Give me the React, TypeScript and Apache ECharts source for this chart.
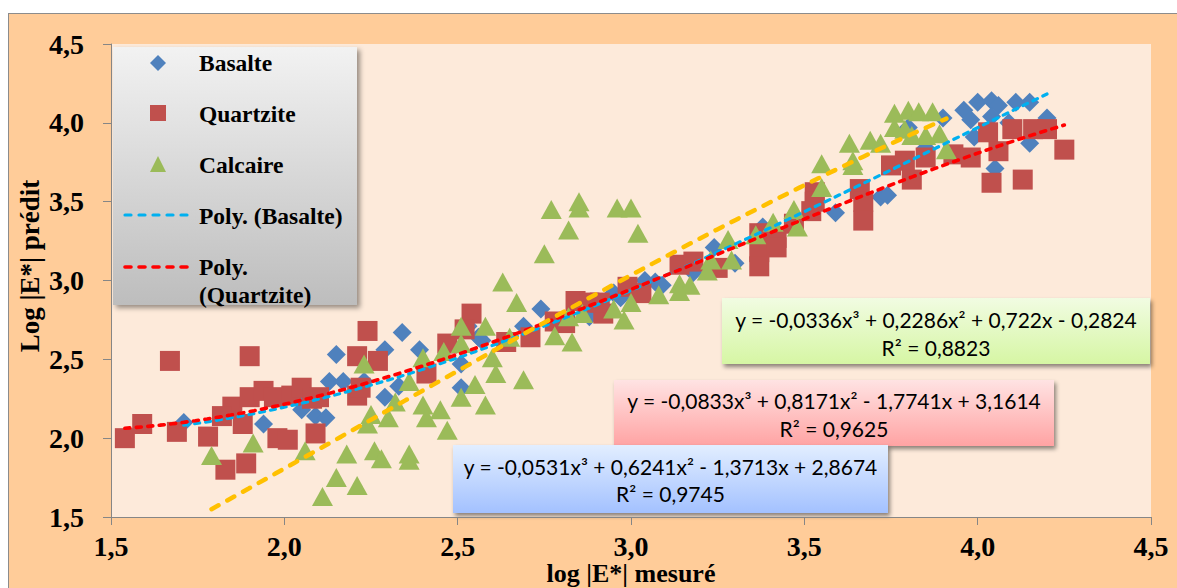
import React, { useEffect, useRef } from "react";
import * as echarts from "echarts";

// ---- data ----
const basalte: [number, number][] = [
  [1.71, 2.10], [1.94, 2.09], [2.05, 2.18], [2.09, 2.14], [2.12, 2.13], [2.06, 2.26],
  [2.15, 2.53], [2.13, 2.36], [2.17, 2.36], [2.23, 2.36], [2.29, 2.56], [2.29, 2.26],
  [2.34, 2.67], [2.39, 2.56], [2.33, 2.33], [2.51, 2.47], [2.51, 2.32], [2.56, 2.64],
  [2.53, 2.71], [2.57, 2.62], [2.69, 2.71], [2.74, 2.82], [2.88, 2.77], [2.95, 2.92],
  [2.97, 2.89], [3.04, 3.00], [3.07, 2.99], [3.09, 2.97], [3.18, 3.05], [3.24, 3.21],
  [3.30, 3.11], [3.38, 3.34], [3.59, 3.43], [3.72, 3.53], [3.74, 3.54], [3.80, 3.97],
  [3.85, 3.84], [3.90, 4.03], [3.96, 4.08], [4.00, 4.13], [4.04, 4.14], [4.06, 4.11],
  [4.11, 4.13], [4.15, 4.13], [4.20, 4.03], [4.15, 3.87], [4.05, 3.71], [3.98, 4.02],
  [3.99, 3.91], [4.04, 4.04], [4.09, 4.00],
];

const quartzite: [number, number][] = [
  [1.54, 2.00], [1.59, 2.09], [1.67, 2.49], [1.69, 2.04], [1.78, 2.01], [1.83, 1.80],
  [1.85, 2.20], [1.88, 2.09], [1.82, 2.14], [1.90, 2.52], [1.89, 1.84], [1.90, 2.26],
  [1.94, 2.30], [1.98, 2.00], [2.01, 1.99], [1.97, 2.26], [2.02, 2.27], [2.05, 2.32],
  [2.08, 2.25], [2.09, 2.03], [2.10, 2.26], [2.21, 2.52], [2.21, 2.27], [2.22, 2.32],
  [2.24, 2.68], [2.27, 2.49], [2.41, 2.41], [2.47, 2.60], [2.54, 2.79], [2.52, 2.69],
  [2.64, 2.61], [2.71, 2.64], [2.78, 2.74], [2.81, 2.73], [2.84, 2.87], [2.88, 2.86],
  [2.92, 2.79], [2.91, 2.86], [2.99, 2.96], [3.03, 2.92], [3.14, 3.10], [3.18, 3.12],
  [3.25, 3.08], [3.37, 3.18], [3.37, 3.09], [3.42, 3.27], [3.37, 3.30], [3.42, 3.21],
  [3.47, 3.36], [3.53, 3.56], [3.53, 3.50], [3.52, 3.44], [3.66, 3.58], [3.67, 3.50],
  [3.67, 3.38], [3.75, 3.73], [3.79, 3.76], [3.81, 3.64], [3.85, 3.78], [3.93, 3.80],
  [3.98, 3.78], [4.03, 3.94], [4.04, 3.62], [4.06, 3.82], [4.10, 3.96], [4.13, 3.64],
  [4.16, 3.96], [4.20, 3.96], [4.25, 3.83],
];

const calcaire: [number, number][] = [
  [1.79, 1.89], [1.91, 1.97], [2.06, 1.92], [2.15, 1.75], [2.11, 1.63], [2.21, 1.70],
  [2.18, 1.90], [2.26, 1.92], [2.28, 1.87], [2.36, 1.90], [2.36, 1.86], [2.23, 2.47],
  [2.25, 2.15], [2.24, 2.09], [2.30, 2.13], [2.32, 2.23], [2.36, 2.36], [2.40, 2.51],
  [2.40, 2.21], [2.41, 2.13], [2.45, 2.18], [2.47, 2.05], [2.51, 2.71], [2.51, 2.60],
  [2.46, 2.55], [2.51, 2.26], [2.55, 2.34], [2.58, 2.71], [2.58, 2.21], [2.60, 2.51],
  [2.61, 2.41], [2.63, 2.99], [2.67, 2.86], [2.65, 2.64], [2.69, 2.37], [2.75, 3.17],
  [2.77, 3.45], [2.82, 3.32], [2.85, 3.50], [2.85, 3.46], [2.96, 3.46], [3.00, 3.46],
  [3.02, 3.30], [2.78, 2.65], [2.83, 2.61], [2.82, 2.77], [2.86, 2.79], [2.95, 2.82],
  [2.98, 2.75], [3.00, 2.86], [3.08, 2.91], [3.14, 2.98], [3.17, 2.97], [3.14, 2.93],
  [3.22, 3.06], [3.23, 3.13], [3.28, 3.26], [3.29, 3.13], [3.36, 3.29], [3.41, 3.37],
  [3.47, 3.45], [3.48, 3.34], [3.55, 3.74], [3.55, 3.59], [3.63, 3.87], [3.64, 3.73],
  [3.64, 3.76], [3.69, 3.89], [3.72, 3.87], [3.76, 4.06], [3.80, 4.08], [3.83, 4.07],
  [3.87, 4.07], [3.76, 3.97], [3.79, 3.96], [3.81, 3.92], [3.85, 3.92], [3.89, 3.93],
  [3.91, 3.83],
];

// polynomial trend coefficients shown on the chart (x^3, x^2, x, 1)
const basalteCoef = [-0.0531, 0.6241, -1.3713, 2.8674];
const quartziteCoef = [-0.0833, 0.8171, -1.7741, 3.1614];
const calcaireCoef = [-0.0336, 0.2286, 0.722, -0.2824];

const eqBasalte = ["y = -0,0531x³ + 0,6241x² - 1,3713x + 2,8674", "R² = 0,9745"];
const eqQuartzite = ["y = -0,0833x³ + 0,8171x² - 1,7741x + 3,1614", "R² = 0,9625"];
const eqCalcaire = ["y = -0,0336x³ + 0,2286x² + 0,722x - 0,2824", "R² = 0,8823"];

const legendNames = ["Basalte", "Quartzite", "Calcaire", "Poly. (Basalte)", "Poly.", "(Quartzite)"];
const xAxisTitle = "log |E*| mesuré";
const yAxisTitle = "Log |E*| prédit";

const C_BAS = "#4F81BD";
const C_QUA = "#C0504D";
const C_CAL = "#9BBB59";
const C_TBAS = "#00B0F0";
const C_TQUA = "#FF0000";
const C_TCAL = "#FFC000";

function trend(coef: number[], data: [number, number][]) {
  const xs = data.map((d) => d[0]);
  const lo = Math.min(...xs);
  const hi = Math.max(...xs);
  const pts: [number, number][] = [];
  const n = 80;
  for (let i = 0; i <= n; i++) {
    const x = lo + ((hi - lo) * i) / n;
    const y = ((coef[0] * x + coef[1]) * x + coef[2]) * x + coef[3];
    pts.push([x, y]);
  }
  return pts;
}

const SERIF = "'Liberation Serif', 'Times New Roman', serif";
const SANS = "Lato, Carlito, Calibri, 'Liberation Sans', sans-serif";

function eqBox(
  x: number, y: number, w: number, h: number,
  top: string, bottom: string, lines: string[], l1: number, l2: number
) {
  return {
    type: "group",
    z: 100,
    children: [
      {
        type: "rect",
        shape: { x, y, width: w, height: h },
        style: {
          fill: new echarts.graphic.LinearGradient(0, 0, 0, 1, [
            { offset: 0, color: top },
            { offset: 1, color: bottom },
          ]),
          shadowBlur: 4,
          shadowColor: "rgba(0,0,0,0.45)",
          shadowOffsetX: 2,
          shadowOffsetY: 3,
        },
      },
      {
        type: "text",
        x: x + w / 2,
        y: l1,
        style: { text: lines[0], fontFamily: SANS, fontSize: 21, fill: "#000", align: "center", verticalAlign: "middle" },
      },
      {
        type: "text",
        x: x + w / 2,
        y: l2,
        style: { text: lines[1], fontFamily: SANS, fontSize: 21, fill: "#000", align: "center", verticalAlign: "middle" },
      },
    ],
  };
}

function legendText(text: string, y: number) {
  return {
    type: "text",
    x: 199,
    y,
    style: { text, fontFamily: SERIF, fontWeight: "bold", fontSize: 23.5, fill: "#000", align: "left", verticalAlign: "middle" },
  };
}

export default function App() {
  const ref = useRef<HTMLDivElement>(null);

  useEffect(() => {
    if (!ref.current) return;
    const chart = echarts.init(ref.current, undefined, { renderer: "svg" });
    const fmt = (v: number) => v.toFixed(1).replace(".", ",");
    const axisCommon = {
      type: "value" as const,
      min: 1.5,
      max: 4.5,
      interval: 0.5,
      splitLine: { show: false },
      axisLine: { show: true, lineStyle: { color: "#868686", width: 1 } },
      axisTick: { show: true, length: 8, lineStyle: { color: "#868686" } },
    };
    chart.setOption({
      animation: false,
      grid: {
        left: 111, top: 44, width: 1040, height: 473,
        show: true, backgroundColor: "#FDEADA", borderWidth: 0,
      },
      xAxis: {
        ...axisCommon,
        axisLabel: { formatter: fmt, margin: 15, fontFamily: SERIF, fontWeight: "bold", fontSize: 28, color: "#000" },
      },
      yAxis: {
        ...axisCommon,
        axisLabel: { formatter: fmt, margin: 27, fontFamily: SERIF, fontWeight: "bold", fontSize: 28, color: "#000" },
      },
      series: [
        { name: "Basalte", type: "scatter", data: basalte, symbol: "diamond", symbolSize: 19, itemStyle: { color: C_BAS, opacity: 1 }, z: 2 },
        { name: "Quartzite", type: "scatter", data: quartzite, symbol: "rect", symbolSize: 20, itemStyle: { color: C_QUA, opacity: 1 }, z: 3 },
        { name: "Calcaire", type: "scatter", data: calcaire, symbol: "triangle", symbolSize: [21, 19], itemStyle: { color: C_CAL, opacity: 1 }, z: 4 },
        {
          name: "Poly. (Basalte)", type: "line", data: trend(basalteCoef, basalte), showSymbol: false, silent: true, z: 5,
          lineStyle: { color: C_TBAS, width: 3.2, type: [5, 6], cap: "round" },
        },
        {
          name: "Poly. (Quartzite)", type: "line", data: trend(quartziteCoef, quartzite), showSymbol: false, silent: true, z: 6,
          lineStyle: { color: C_TQUA, width: 3.6, type: [5, 6.5], cap: "round" },
        },
        {
          name: "Poly. (Calcaire)", type: "line", data: trend(calcaireCoef, calcaire), showSymbol: false, silent: true, z: 7,
          lineStyle: { color: C_TCAL, width: 4.5, type: [8, 10], cap: "round" },
        },
      ],
      graphic: [
        {
          type: "group",
          z: 100,
          children: [
            {
              type: "rect",
              shape: { x: 113, y: 47, width: 244, height: 258 },
              style: {
                fill: new echarts.graphic.LinearGradient(0, 0, 0, 1, [
                  { offset: 0, color: "#F2F2F2" },
                  { offset: 1, color: "#BDBDBD" },
                ]),
                shadowBlur: 5,
                shadowColor: "rgba(0,0,0,0.4)",
                shadowOffsetX: 3,
                shadowOffsetY: 3,
              },
            },
            { type: "polygon", shape: { points: [[158, 55], [166, 63], [158, 71], [150, 63]] }, style: { fill: C_BAS } },
            { type: "rect", shape: { x: 150, y: 105, width: 16, height: 16 }, style: { fill: C_QUA } },
            { type: "polygon", shape: { points: [[158, 156], [166, 172], [150, 172]] }, style: { fill: C_CAL } },
            {
              type: "line", shape: { x1: 125, y1: 215, x2: 191, y2: 215 },
              style: { stroke: C_TBAS, lineWidth: 3.2, lineDash: [6, 8], lineCap: "round" },
            },
            {
              type: "line", shape: { x1: 125, y1: 267, x2: 191, y2: 267 },
              style: { stroke: C_TQUA, lineWidth: 3.6, lineDash: [6, 8], lineCap: "round" },
            },
            legendText(legendNames[0], 63),
            legendText(legendNames[1], 114),
            legendText(legendNames[2], 165),
            legendText(legendNames[3], 216),
            legendText(legendNames[4], 267),
            legendText(legendNames[5], 295),
          ],
        },
        eqBox(722, 298, 428, 66, "#F1FCE2", "#D6F6A4", eqCalcaire, 319, 347),
        eqBox(614, 380, 440, 66, "#FFE3E3", "#FFA3A3", eqQuartzite, 400, 428),
        eqBox(453, 445, 435, 68, "#E2EEFF", "#A3C1FF", eqBasalte, 466, 493),
        {
          type: "text",
          x: 631,
          y: 573,
          z: 100,
          style: { text: xAxisTitle, fontFamily: SERIF, fontWeight: "bold", fontSize: 26, fill: "#000", align: "center", verticalAlign: "middle" },
        },
        {
          type: "text",
          x: 30,
          y: 266,
          rotation: Math.PI / 2,
          z: 100,
          style: { text: yAxisTitle, fontFamily: SERIF, fontWeight: "bold", fontSize: 27, fill: "#000", align: "center", verticalAlign: "middle" },
        },
      ],
    });
    return () => chart.dispose();
  }, []);

  return (
    <div style={{ position: "fixed", left: 0, top: 0, width: 1177, height: 588, overflow: "hidden", background: "#fff" }}>
      <div
        style={{
          position: "absolute", left: 8, top: 13, width: 1180, height: 600,
          background: "#FFCC99", border: "1px solid #8C8C8C", boxSizing: "border-box",
        }}
      />
      <div ref={ref} style={{ position: "absolute", left: 0, top: 0, width: 1177, height: 588 }} />
    </div>
  );
}
